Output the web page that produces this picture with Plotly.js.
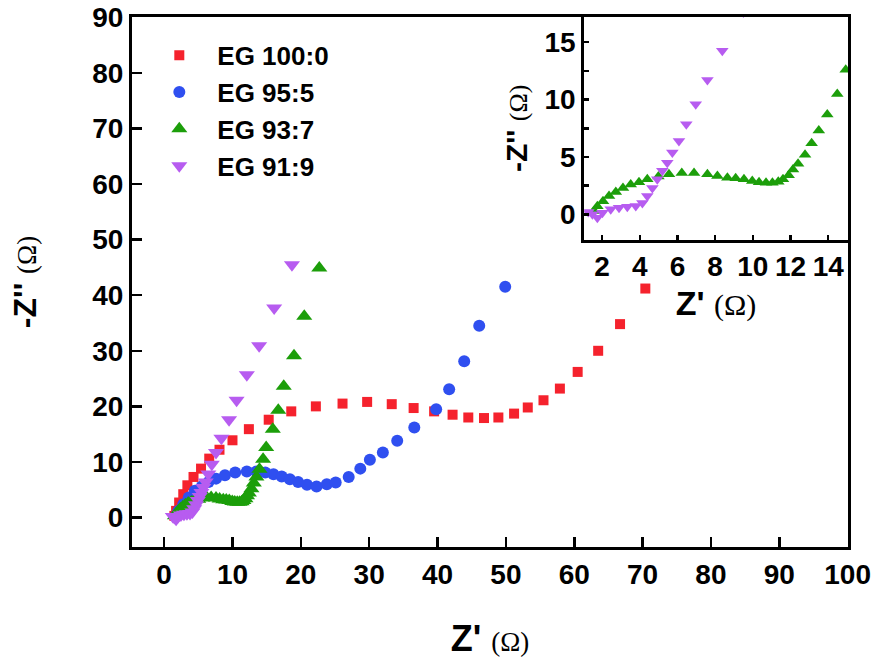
<!DOCTYPE html>
<html>
<head>
<meta charset="utf-8">
<script src="https://cdn.plot.ly/plotly-3.0.1.min.js"></script>
<style>html,body{margin:0;padding:0;background:#fff;}#chart{width:881px;height:664px;}</style>
</head>
<body>
<div id="chart"></div>
<script>
// EG 100:0 (red squares)
var redX = [1.5, 1.75, 2.2, 2.8, 3.4, 4.3, 5.4, 6.6, 8.1, 10.0, 12.4, 15.3, 18.6, 22.2, 26.1, 29.7, 33.3, 36.5, 39.5, 42.2, 44.5, 46.8, 48.9, 51.2, 53.2, 55.5, 57.9, 60.5, 63.5, 66.7, 70.4];
var redY = [0.3, 1.2, 2.7, 4.2, 5.8, 7.3, 8.8, 10.6, 12.2, 13.9, 15.9, 17.6, 19.1, 20.0, 20.5, 20.8, 20.4, 19.7, 19.1, 18.5, 18.0, 17.9, 18.0, 18.7, 19.8, 21.1, 23.2, 26.2, 30.0, 34.8, 41.2];
// EG 95:5 (blue circles)
var blueX = [1.7, 2.1, 2.8, 3.6, 4.5, 5.5, 6.5, 7.6, 8.9, 10.4, 12.1, 13.5, 14.8, 16.0, 17.2, 18.4, 19.6, 20.9, 22.3, 23.8, 25.1, 27.0, 28.7, 30.1, 32.0, 34.1, 36.6, 39.8, 41.7, 43.9, 46.1, 49.9];
var blueY = [0.3, 1.2, 2.4, 3.6, 4.8, 5.6, 6.4, 7.0, 7.6, 8.1, 8.3, 8.3, 8.1, 7.8, 7.4, 6.9, 6.4, 5.9, 5.6, 6.0, 6.3, 7.3, 8.8, 10.4, 11.7, 13.8, 16.2, 19.5, 23.1, 28.1, 34.5, 41.5];
// EG 93:7 (green up-triangles)
var greenX = [1.58, 1.75, 2.05, 2.37, 2.73, 3.11, 3.52, 3.96, 4.4, 4.99, 5.55, 6.23, 6.88, 7.59, 8.12, 8.65, 9.09, 9.53, 9.97, 10.33, 10.7, 11.04, 11.35, 11.6, 11.9, 12.13, 12.4, 12.77, 13.12, 13.5, 13.95, 14.48, 14.93, 15.9, 16.7, 17.5, 19.0, 20.5, 22.7];
var greenY = [0.3, 0.7, 1.15, 1.6, 1.95, 2.3, 2.6, 2.8, 3.05, 3.3, 3.5, 3.6, 3.6, 3.5, 3.35, 3.2, 3.15, 3.05, 2.9, 2.8, 2.75, 2.75, 2.85, 3.05, 3.4, 3.9, 4.4, 5.2, 6.2, 7.3, 8.7, 10.5, 12.6, 15.9, 19.3, 23.6, 29.1, 36.2, 44.9];
// EG 91:9 (purple down-triangles)
var purpleX = [1.27, 1.49, 1.75, 2.02, 2.46, 2.9, 3.34, 3.79, 4.14, 4.4, 4.67, 4.93, 5.2, 5.46, 5.73, 6.08, 6.47, 6.97, 7.59, 8.38, 9.5, 10.6, 12.1, 13.9, 16.1, 18.7];
var purpleY = [0.2, 0.0, -0.3, 0.15, 0.44, 0.58, 0.67, 0.73, 1.0, 1.6, 2.3, 3.05, 3.8, 4.5, 5.4, 6.4, 7.85, 9.6, 11.7, 14.25, 17.6, 21.1, 25.7, 30.9, 37.7, 45.5];

var names = ['EG 100:0', 'EG 95:5', 'EG 93:7', 'EG 91:9'];
var colors = ['#f5222d', '#2f4ff0', '#1c9e0a', '#b75cf0'];

var FONT = 'Liberation Sans, Arial, sans-serif';

var traces = [
  {x: redX, y: redY, name: names[0], type: 'scatter', mode: 'markers', marker: {symbol: 'square', size: 10, color: colors[0]}, xaxis: 'x', yaxis: 'y'},
  {x: blueX, y: blueY, name: names[1], type: 'scatter', mode: 'markers', marker: {symbol: 'circle', size: 12, color: colors[1]}, xaxis: 'x', yaxis: 'y'},
  {x: greenX, y: greenY, name: names[2], type: 'scatter', mode: 'markers', marker: {symbol: 'triangle-up', size: 14, color: colors[2]}, xaxis: 'x', yaxis: 'y'},
  {x: purpleX, y: purpleY, name: names[3], type: 'scatter', mode: 'markers', marker: {symbol: 'triangle-down', size: 14, color: colors[3]}, xaxis: 'x', yaxis: 'y'},
  {x: greenX, y: greenY, name: names[2], showlegend: false, type: 'scatter', mode: 'markers', marker: {symbol: 'triangle-up', size: 11, color: colors[2]}, xaxis: 'x2', yaxis: 'y2'},
  {x: purpleX, y: purpleY, name: names[3], showlegend: false, type: 'scatter', mode: 'markers', marker: {symbol: 'triangle-down', size: 11, color: colors[3]}, xaxis: 'x2', yaxis: 'y2'}
];

var tickFont = {family: FONT, size: 28, color: '#000', weight: 'bold'};

var layout = {
  width: 881, height: 664,
  margin: {l: 132, r: 33, t: 17, b: 117},
  paper_bgcolor: '#fff', plot_bgcolor: '#fff',
  showlegend: true,
  legend: {x: 0.013, y: 0.972, xanchor: 'left', yanchor: 'top', bgcolor: 'rgba(0,0,0,0)',
           font: {family: FONT, size: 26, color: '#000', weight: 'bold'}, itemwidth: 66, tracegroupgap: 0},
  xaxis: {
    domain: [0, 1], range: [-4.7, 100.05], dtick: 10, tick0: 0,
    showgrid: false, zeroline: false, showline: true, mirror: true, linecolor: '#000', linewidth: 3,
    ticks: 'inside', ticklen: 10, tickwidth: 2.5, tickcolor: '#000', tickfont: tickFont,
    title: {text: "<b>Z'</b> <span style='font-family:Liberation Serif;font-weight:normal;font-size:27px'>(Ω)</span>",
            font: {family: FONT, size: 36, color: '#000'}, standoff: 38}
  },
  yaxis: {
    domain: [0, 1], range: [-5.3, 90.05], dtick: 10, tick0: 0,
    showgrid: false, zeroline: false, showline: true, mirror: true, linecolor: '#000', linewidth: 3,
    ticks: 'inside', ticklen: 10, tickwidth: 2.5, tickcolor: '#000', tickfont: tickFont,
    title: {text: "<b>-Z''</b> <span style='font-family:Liberation Serif;font-weight:normal;font-size:27px'>(Ω)</span>",
            font: {family: FONT, size: 32, color: '#000'}, standoff: 47}
  },
  xaxis2: {
    domain: [0.6315, 1], anchor: 'y2', range: [1.05, 15.05], dtick: 2, tick0: 0,
    showgrid: false, zeroline: false, showline: true, mirror: true, linecolor: '#000', linewidth: 3,
    ticks: 'inside', ticklen: 5, tickwidth: 2.5, tickcolor: '#000', tickfont: tickFont,
    title: {text: "<b>Z'</b> <span style='font-family:Liberation Serif;font-weight:normal;font-size:30px'>(Ω)</span>",
            font: {family: FONT, size: 34, color: '#000'}, standoff: 10}
  },
  yaxis2: {
    domain: [0.58, 1], anchor: 'x2', range: [-2.2, 17.2], dtick: 5, tick0: 0,
    showgrid: false, zeroline: false, showline: true, mirror: true, linecolor: '#000', linewidth: 3,
    ticks: 'inside', ticklen: 5, tickwidth: 2.5, tickcolor: '#000', tickfont: tickFont,
    minor: {dtick: 2.5, ticks: 'inside', ticklen: 5, tickwidth: 2.5, tickcolor: '#000'},
    title: {text: "<b>-Z''</b> <span style='font-family:Liberation Serif;font-weight:normal;font-size:26px'>(Ω)</span>",
            font: {family: FONT, size: 30, color: '#000'}, standoff: 8}
  }
};

Plotly.newPlot('chart', traces, layout, {displayModeBar: false, staticPlot: true});
</script>
</body>
</html>
